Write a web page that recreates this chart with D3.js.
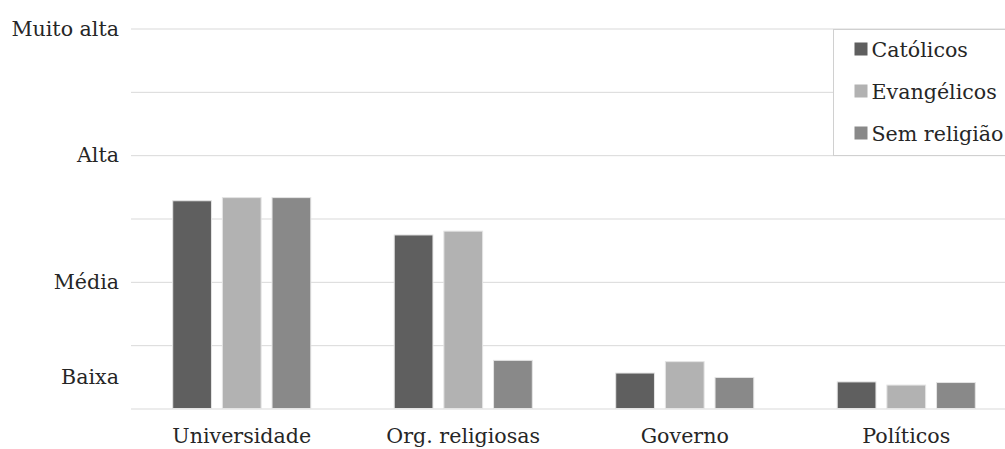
<!DOCTYPE html>
<html>
<head>
<meta charset="utf-8">
<script src="https://cdn.jsdelivr.net/npm/d3@7"></script>
<style>
	html, body { margin: 0; padding: 0; background: #fff; }
	svg text { font-family: "DejaVu Serif", serif; fill: #262626; }
</style>
</head>
<body>
<div id="chart"></div>
<script>
"use strict";

// data (scale: 0 = base, 3 = Muito alta)
const categories = ["Universidade", "Org. religiosas", "Governo", "Políticos"];
const series = ["Católicos", "Evangélicos", "Sem religião"];
const catolicos = [1.64, 1.37, 0.28, 0.21];
const evangelicos = [1.665, 1.40, 0.37, 0.185];
const semReligiao = [1.665, 0.38, 0.245, 0.205];
const yTickValues = [3, 2, 1, 0.25];
const yTickLabels = ["Muito alta", "Alta", "Média", "Baixa"];
const gridValues = [0, 0.5, 1, 1.5, 2, 2.5, 3];

const colors = ["#5f5f5f", "#b2b2b2", "#898989"];
const values = [catolicos, evangelicos, semReligiao];

const w = 1005;
const h = 449;
const fontSize = 20.6;

const svg = d3.select("#chart")
	.append("svg")
	.attr("width", w)
	.attr("height", h);

const y = d3.scaleLinear()
	.domain([0, 3])
	.range([408.5, 28.5]);

const x = d3.scaleBand()
	.domain(categories)
	.range([131, 1017])
	.paddingInner(0)
	.paddingOuter(0);

const xs = d3.scaleBand()
	.domain(series)
	.range([0, x.bandwidth()])
	.paddingInner(0.22)
	.paddingOuter(0.84);

// gridlines
const grid = svg.append("g")
	.attr("transform", "translate(131,0)")
	.call(d3.axisLeft(y).tickValues(gridValues).tickSize(-(w - 131)).tickFormat(""));
grid.select(".domain").remove();
grid.selectAll("line").attr("stroke", "#d9d9d9").attr("stroke-width", 1);

// y labels
const yAxis = svg.append("g")
	.attr("transform", "translate(119,0)")
	.call(d3.axisLeft(y).tickValues(yTickValues).tickSize(0).tickPadding(0)
		.tickFormat((d, i) => yTickLabels[i]));
yAxis.select(".domain").remove();
yAxis.selectAll("text")
	.attr("font-family", "DejaVu Serif")
	.attr("font-size", fontSize)
	.attr("fill", "#262626");

// bars
const rows = categories.map((c, i) => ({ cat: c, vals: series.map((s, j) => ({ s: s, v: values[j][i], j: j })) }));

const groups = svg.selectAll("g.cat")
	.data(rows)
	.enter()
	.append("g")
	.attr("class", "cat")
	.attr("transform", d => "translate(" + x(d.cat) + ",0)");

groups.selectAll("rect")
	.data(d => d.vals)
	.enter()
	.append("rect")
	.attr("x", d => xs(d.s))
	.attr("y", d => y(d.v))
	.attr("width", xs.bandwidth())
	.attr("height", d => y(0) - y(d.v))
	.attr("fill", d => colors[d.j])
	.attr("stroke", "#e4e4e4")
	.attr("stroke-width", 1);

// x labels
const xAxis = svg.append("g")
	.attr("transform", "translate(0,408.5)")
	.call(d3.axisBottom(x).tickSize(0).tickPadding(20));
xAxis.select(".domain").remove();
xAxis.selectAll("text")
	.attr("font-family", "DejaVu Serif")
	.attr("font-size", fontSize)
	.attr("fill", "#262626");

// legend
const legend = svg.append("g").attr("transform", "translate(833.5,29.5)");
legend.append("rect")
	.attr("width", 190)
	.attr("height", 126)
	.attr("fill", "#fff")
	.attr("stroke", "#d0d0d0");

const items = legend.selectAll("g.item")
	.data(series)
	.enter()
	.append("g")
	.attr("class", "item")
	.attr("transform", (d, i) => "translate(21," + (20 + i * 42) + ")");

items.append("rect")
	.attr("x", 0)
	.attr("y", -7)
	.attr("width", 13)
	.attr("height", 13)
	.attr("fill", (d, i) => colors[i]);

items.append("text")
	.attr("x", 17)
	.attr("y", 0)
	.attr("dy", "0.35em")
	.attr("font-size", fontSize)
	.text(d => d);
</script>
</body>
</html>
